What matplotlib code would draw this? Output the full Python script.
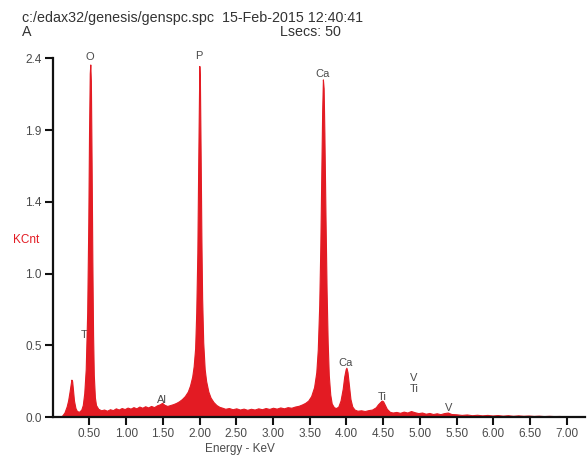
import matplotlib
matplotlib.use("Agg")
import matplotlib.pyplot as plt

# ---------------- data ----------------
energy = [0.00, 0.10, 0.13, 0.16, 0.19, 0.21, 0.23, 0.245, 0.255, 0.265, 0.275, 0.29, 0.31, 0.33, 0.36,
          0.39, 0.41, 0.43, 0.45, 0.47, 0.485, 0.495, 0.505, 0.512, 0.52, 0.53, 0.54, 0.55, 0.56, 0.575,
          0.59, 0.62, 0.66, 0.70, 0.74, 0.78, 0.82, 0.86, 0.90, 0.94, 0.98, 1.02, 1.06, 1.10, 1.14,
          1.18, 1.22, 1.26, 1.30, 1.34, 1.38, 1.42, 1.46, 1.49, 1.52, 1.56, 1.60, 1.64, 1.68, 1.72,
          1.76, 1.80, 1.84, 1.87, 1.90, 1.92, 1.94, 1.955, 1.97, 1.98, 1.99, 1.997, 2.005, 2.015, 2.025,
          2.035, 2.05, 2.07, 2.09, 2.12, 2.15, 2.19, 2.23, 2.27, 2.31, 2.35, 2.40, 2.45, 2.50, 2.55,
          2.60, 2.65, 2.70, 2.75, 2.80, 2.85, 2.90, 2.95, 3.00, 3.05, 3.10, 3.15, 3.20, 3.25, 3.30,
          3.35, 3.40, 3.44, 3.48, 3.52, 3.56, 3.59, 3.61, 3.63, 3.645, 3.66, 3.67, 3.68, 3.69, 3.70,
          3.715, 3.73, 3.745, 3.76, 3.78, 3.80, 3.83, 3.86, 3.89, 3.92, 3.95, 3.97, 3.99, 4.00, 4.015,
          4.035, 4.055, 4.08, 4.11, 4.15, 4.20, 4.25, 4.30, 4.35, 4.40, 4.43, 4.46, 4.48, 4.50, 4.52,
          4.55, 4.59, 4.63, 4.68, 4.73, 4.78, 4.83, 4.88, 4.93, 4.98, 5.03, 5.08, 5.13, 5.18, 5.23,
          5.28, 5.33, 5.38, 5.43, 5.50, 5.57, 5.64, 5.71, 5.78, 5.85, 5.92, 5.99, 6.06, 6.13, 6.20,
          6.27, 6.34, 6.41, 6.48, 6.55, 6.62, 6.69, 6.76, 6.83, 6.90, 6.97, 7.04, 7.11, 7.18, 7.25]
kcnt = [0.0, 0.0, 0.01, 0.03, 0.07, 0.11, 0.17, 0.22, 0.25, 0.24, 0.19, 0.11, 0.06, 0.04, 0.035,
        0.05, 0.08, 0.16, 0.32, 0.70, 1.30, 1.90, 2.30, 2.36, 2.25, 1.70, 1.05, 0.55, 0.28, 0.13,
        0.08, 0.055, 0.045, 0.05, 0.042, 0.052, 0.046, 0.058, 0.05, 0.06, 0.053, 0.063, 0.056, 0.066, 0.058,
        0.07, 0.062, 0.072, 0.064, 0.074, 0.066, 0.078, 0.085, 0.095, 0.082, 0.074, 0.08, 0.086, 0.094, 0.105,
        0.12, 0.14, 0.17, 0.21, 0.27, 0.34, 0.46, 0.70, 1.10, 1.60, 2.05, 2.35, 2.25, 1.75, 1.20,
        0.80, 0.50, 0.32, 0.24, 0.17, 0.13, 0.10, 0.08, 0.068, 0.062, 0.055, 0.06, 0.052, 0.058, 0.05,
        0.056, 0.048, 0.055, 0.05, 0.058, 0.052, 0.06, 0.054, 0.062, 0.056, 0.064, 0.058, 0.066, 0.062, 0.07,
        0.075, 0.085, 0.095, 0.11, 0.14, 0.20, 0.30, 0.45, 0.75, 1.15, 1.70, 2.05, 2.26, 2.20, 1.90,
        1.35, 0.85, 0.50, 0.28, 0.15, 0.09, 0.065, 0.06, 0.07, 0.11, 0.19, 0.27, 0.32, 0.33, 0.30,
        0.21, 0.12, 0.07, 0.05, 0.042, 0.045, 0.04, 0.046, 0.05, 0.065, 0.085, 0.10, 0.11, 0.105, 0.085,
        0.055, 0.035, 0.03, 0.034, 0.028, 0.036, 0.03, 0.04, 0.032, 0.026, 0.03, 0.022, 0.027, 0.02, 0.025,
        0.019, 0.026, 0.03, 0.02, 0.018, 0.014, 0.017, 0.012, 0.015, 0.011, 0.014, 0.01, 0.013, 0.009, 0.012,
        0.008, 0.011, 0.008, 0.01, 0.007, 0.009, 0.006, 0.008, 0.006, 0.007, 0.005, 0.006, 0.005, 0.005, 0.004]

x_ticks = [0.5, 1.0, 1.5, 2.0, 2.5, 3.0, 3.5, 4.0, 4.5, 5.0, 5.5, 6.0, 6.5, 7.0]
x_tick_labels = ["0.50", "1.00", "1.50", "2.00", "2.50", "3.00", "3.50", "4.00", "4.50",
                 "5.00", "5.50", "6.00", "6.50", "7.00"]
y_ticks = [0.0, 0.48, 0.96, 1.44, 1.92, 2.40]
y_tick_labels = ["0.0", "0.5", "1.0", "1.4", "1.9", "2.4"]

peak_labels = ["O", "P", "Ca", "Ti", "Al", "Ca", "Ti", "V", "Ti", "V"]
peak_label_x = [0.509, 1.996, 3.675, 0.44, 1.487, 3.987, 4.49, 4.92, 4.92, 5.39]
peak_label_y = [2.41, 2.416, 2.296, 0.55, 0.114, 0.361, 0.134, 0.261, 0.187, 0.06]

# ---------------- style ----------------
plt.rcParams["font.family"] = ["Liberation Sans", "DejaVu Sans"]

RED = "#e31b23"
GREY = "#4a4a4a"

fig = plt.figure(figsize=(5.88, 4.57), dpi=100)
ax = fig.add_axes([0.0896, 0.0875, 0.9054, 0.7845])

ax.fill_between(energy, kcnt, 0, color=RED, linewidth=0.8, edgecolor=RED, zorder=2)

ax.set_xlim(0, 7.25)
ax.set_ylim(0, 2.40)

ax.set_xticks(x_ticks)
ax.set_xticklabels(x_tick_labels)
ax.set_yticks(y_ticks)
ax.set_yticklabels(y_tick_labels)

for s in ("top", "right"):
    ax.spines[s].set_visible(False)
for s in ("left", "bottom"):
    ax.spines[s].set_linewidth(1.6)
    ax.spines[s].set_color("#111111")
    ax.spines[s].set_zorder(3)

ax.tick_params(axis="both", direction="out", length=6, width=1.5, color="#111111",
               labelsize=8.5, labelcolor=GREY, pad=2)

for lab, lx, ly in zip(peak_labels, peak_label_x, peak_label_y):
    ax.text(lx, ly, lab, ha="center", va="center", fontsize=8, color=GREY,
            zorder=1, clip_on=False)

HDR = "#333333"
fig.text(22 / 588, 1 - 18 / 457, "c:/edax32/genesis/genspc.spc  15-Feb-2015 12:40:41",
         ha="left", va="center", fontsize=10.3, color=HDR)
fig.text(22 / 588, 1 - 32 / 457, "A", ha="left", va="center", fontsize=10.3, color=HDR)
fig.text(280 / 588, 1 - 32 / 457, "Lsecs: 50", ha="left", va="center", fontsize=10.3, color=HDR)
fig.text(13 / 588, 1 - 240 / 457, "KCnt", ha="left", va="center", fontsize=8.5, color=RED)
fig.text(240 / 588, 1 - 449 / 457, "Energy - KeV", ha="center", va="center", fontsize=8.5, color=GREY)

fig.savefig("out.png", dpi=100)
